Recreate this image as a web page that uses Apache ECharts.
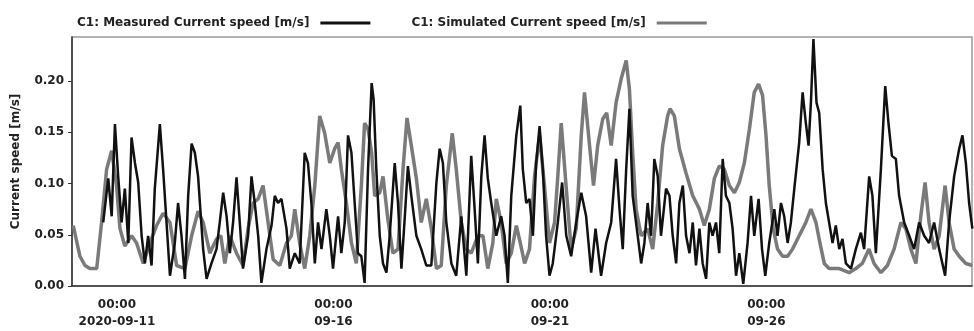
<!DOCTYPE html>
<html>
<head>
<meta charset="utf-8">
<script src="https://cdn.jsdelivr.net/npm/echarts@6/dist/echarts.min.js"></script>
<style>html,body{margin:0;padding:0;background:#fff;}#c{width:974px;height:331px;}</style>
</head>
<body>
<div id="c"></div>
<script>
// time: hours relative to 2020-09-11 00:00
const startDate = Date.UTC(2020, 8, 11, 0, 0, 0);
const xTickHours = [0, 120, 240, 360];
const yTicks = [0, 0.05, 0.10, 0.15, 0.20];

const simHours = [-24.2,-20.5,-17.7,-15.0,-11.2,-8.5,-5.7,-2.9,-0.2,1.7,4.4,8.1,10.9,14.6,18.3,22.0,25.6,29.4,33.1,37.7,41.4,45.0,47.8,51.5,55.2,57.6,59.8,62.6,66.3,69.9,72.7,75.5,78.3,81.0,83.8,86.6,90.3,94.0,96.7,98.6,101.3,104.1,106.9,109.7,112.4,115.2,118.0,120.7,122.6,124.4,127.2,130.0,132.7,135.5,137.3,139.2,141.2,142.9,145.7,147.5,150.2,153.0,155.8,158.6,160.8,163.2,166.0,168.7,171.5,174.3,177.1,179.8,182.6,185.9,188.1,190.9,193.7,196.4,200.1,202.9,205.6,208.4,210.3,213.0,215.8,218.6,221.4,223.6,226.0,228.7,231.5,234.3,237.0,239.8,242.6,244.4,246.3,249.1,251.8,254.6,257.4,259.2,262.0,264.2,266.5,269.3,271.5,274.0,276.7,279.5,282.3,284.1,285.9,287.8,290.6,294.2,297.0,299.8,302.5,305.3,306.6,309.0,311.8,315.5,319.2,322.9,325.6,328.4,331.2,333.9,336.7,339.5,342.3,345.0,347.8,350.6,353.3,355.7,357.9,359.8,361.6,363.8,366.2,369.0,371.8,374.5,378.2,381.9,384.7,387.5,389.7,392.1,394.8,400.4,405.9,409.6,413.2,416.9,419.7,423.5,427.1,430.8,434.6,437.3,440.1,442.9,445.6,448.0,450.2,453.0,455.8,459.1,461.3,464.1,466.9,470.6,474.2];
const simValues = [0.059,0.029,0.020,0.017,0.017,0.062,0.114,0.132,0.098,0.056,0.039,0.049,0.042,0.022,0.042,0.059,0.071,0.062,0.020,0.017,0.049,0.073,0.062,0.032,0.046,0.049,0.022,0.049,0.032,0.020,0.056,0.081,0.085,0.098,0.062,0.026,0.020,0.042,0.049,0.075,0.042,0.017,0.049,0.098,0.166,0.149,0.120,0.134,0.140,0.114,0.081,0.042,0.022,0.098,0.159,0.153,0.130,0.088,0.091,0.107,0.065,0.032,0.036,0.114,0.164,0.137,0.105,0.062,0.085,0.056,0.017,0.020,0.098,0.149,0.114,0.062,0.036,0.032,0.049,0.049,0.017,0.042,0.085,0.062,0.022,0.032,0.059,0.042,0.022,0.036,0.107,0.147,0.098,0.042,0.062,0.107,0.159,0.095,0.036,0.056,0.147,0.189,0.137,0.098,0.137,0.163,0.169,0.137,0.179,0.202,0.220,0.192,0.130,0.075,0.049,0.056,0.036,0.081,0.137,0.166,0.173,0.166,0.134,0.110,0.088,0.075,0.059,0.075,0.105,0.117,0.114,0.098,0.091,0.101,0.120,0.153,0.189,0.197,0.186,0.147,0.098,0.056,0.036,0.029,0.029,0.036,0.049,0.062,0.075,0.062,0.042,0.022,0.017,0.017,0.013,0.017,0.022,0.036,0.022,0.013,0.020,0.036,0.062,0.056,0.036,0.022,0.068,0.101,0.062,0.036,0.049,0.098,0.062,0.036,0.029,0.022,0.020];

const measHours = [-7.6,-4.8,-2.9,-1.1,0.7,2.6,4.4,6.3,8.1,10.0,11.8,13.7,15.5,17.3,19.2,21.0,23.8,25.6,27.5,29.4,32.1,33.9,35.8,37.7,39.5,41.4,43.2,45.0,46.0,47.8,49.7,52.4,55.2,57.0,58.9,60.8,62.6,64.4,66.3,68.1,69.9,72.7,74.6,76.4,78.3,80.1,82.9,85.7,87.5,89.3,91.2,94.0,95.8,98.6,101.3,104.1,105.9,107.8,109.7,111.5,113.4,116.1,118.0,119.8,122.6,124.4,126.3,128.1,130.0,131.8,133.6,135.5,137.3,139.2,141.2,142.3,143.8,145.7,147.5,149.4,151.2,154.0,155.8,157.7,159.5,161.3,163.2,166.0,168.7,171.5,174.3,177.1,178.9,180.7,182.6,185.4,188.1,190.9,193.7,196.4,198.3,200.1,202.0,203.8,205.6,207.5,210.3,213.0,214.9,216.7,218.6,221.4,223.6,225.0,226.9,228.7,230.6,232.4,234.3,236.1,237.9,239.8,241.6,244.4,246.8,249.1,251.8,254.6,257.4,260.1,262.9,265.3,268.4,271.2,274.0,276.7,278.6,280.4,282.3,284.1,285.9,288.7,290.6,292.4,294.2,296.1,297.9,299.8,301.6,304.4,306.3,308.1,310.0,311.8,313.7,315.5,317.4,319.2,321.0,322.9,324.7,326.6,328.4,330.2,332.1,333.9,335.8,337.6,339.5,341.3,343.2,345.0,347.2,349.6,351.5,353.3,355.7,357.6,359.4,361.6,364.4,366.2,368.1,369.9,371.8,373.6,375.5,378.2,380.1,381.9,383.4,384.7,386.1,387.8,389.3,391.2,393.0,394.8,396.7,398.5,400.4,402.2,404.1,406.9,409.6,412.4,414.2,417.0,418.8,420.7,423.5,425.9,427.7,429.6,431.8,433.6,436.4,439.2,441.9,444.7,447.5,450.2,453.0,455.8,459.1,461.3,464.1,466.9,468.7,470.6,472.4,474.2];
const measValues = [0.062,0.105,0.068,0.158,0.107,0.062,0.095,0.042,0.145,0.120,0.101,0.049,0.022,0.049,0.020,0.095,0.158,0.114,0.062,0.010,0.042,0.081,0.049,0.007,0.088,0.139,0.130,0.107,0.081,0.036,0.007,0.022,0.036,0.062,0.091,0.068,0.032,0.062,0.106,0.062,0.017,0.049,0.107,0.081,0.049,0.003,0.036,0.059,0.088,0.081,0.085,0.056,0.017,0.032,0.022,0.130,0.120,0.081,0.022,0.062,0.036,0.075,0.049,0.017,0.068,0.032,0.062,0.147,0.130,0.081,0.032,0.029,0.003,0.114,0.198,0.182,0.114,0.049,0.022,0.013,0.049,0.120,0.081,0.017,0.065,0.117,0.088,0.049,0.036,0.020,0.020,0.101,0.134,0.120,0.062,0.022,0.010,0.068,0.010,0.127,0.075,0.022,0.107,0.147,0.105,0.081,0.049,0.068,0.049,0.003,0.088,0.147,0.176,0.114,0.081,0.085,0.049,0.120,0.156,0.114,0.049,0.010,0.022,0.062,0.101,0.049,0.029,0.062,0.091,0.068,0.013,0.056,0.010,0.042,0.062,0.124,0.075,0.036,0.114,0.173,0.088,0.049,0.022,0.042,0.081,0.049,0.124,0.107,0.049,0.095,0.088,0.049,0.022,0.081,0.098,0.049,0.032,0.062,0.020,0.056,0.022,0.007,0.062,0.049,0.062,0.032,0.124,0.088,0.081,0.056,0.010,0.032,0.002,0.042,0.088,0.049,0.085,0.036,0.010,0.042,0.075,0.049,0.081,0.068,0.042,0.062,0.095,0.140,0.189,0.159,0.137,0.179,0.241,0.179,0.169,0.114,0.081,0.062,0.042,0.059,0.036,0.046,0.022,0.017,0.036,0.052,0.036,0.107,0.088,0.032,0.114,0.195,0.159,0.127,0.124,0.088,0.062,0.049,0.036,0.062,0.049,0.042,0.062,0.036,0.010,0.062,0.107,0.134,0.147,0.120,0.081,0.056];

const seriesNames = ['C1: Measured Current speed [m/s]', 'C1: Simulated Current speed [m/s]'];
const yAxisTitle = 'Current speed [m/s]';

const zip = (a, b) => a.map((h, i) => [h, b[i]]);
const pad = n => String(n).padStart(2, '0');
function fmtX(h) {
  const d = new Date(startDate + h * 3600000);
  const hm = pad(d.getUTCHours()) + ':' + pad(d.getUTCMinutes());
  const md = pad(d.getUTCMonth() + 1) + '-' + pad(d.getUTCDate());
  return hm + '\n' + (h === 0 ? d.getUTCFullYear() + '-' + md : md);
}

const FONT = 'DejaVu Sans';
const chart = echarts.init(document.getElementById('c'), null, {renderer: 'canvas'});
chart.setOption({
  animation: false,
  backgroundColor: '#fff',
  textStyle: {fontFamily: FONT},
  grid: {left: 72, right: 2, top: 37, bottom: 45, show: true, borderColor: '#9a9a9a', borderWidth: 1.5},
  legend: {
    left: 72, top: 12, align: 'right', itemGap: 41, icon: 'rect', itemWidth: 50, itemHeight: 3,
    textStyle: {fontFamily: FONT, fontWeight: 'bold', fontSize: 12, color: '#222', padding: [0, 6, 0, 0]},
    data: seriesNames
  },
  xAxis: {
    type: 'value', min: -24.9, max: 474,
    axisLine: {show: true, onZero: false, lineStyle: {color: '#333', width: 1.5}},
    axisTick: {show: false},
    splitLine: {show: false},
    axisLabel: {
      customValues: xTickHours, formatter: fmtX, margin: 10, lineHeight: 17,
      fontFamily: FONT, fontWeight: 'bold', fontSize: 12, color: '#222'
    }
  },
  yAxis: {
    type: 'value', min: 0, max: 0.243,
    name: yAxisTitle, nameLocation: 'middle', nameRotate: 90, nameGap: 50,
    nameTextStyle: {fontFamily: FONT, fontWeight: 'bold', fontSize: 12, color: '#222'},
    axisLine: {show: true, onZero: false, lineStyle: {color: '#333', width: 1.5}},
    axisTick: {show: true, customValues: yTicks, length: 4, lineStyle: {color: '#333'}},
    splitLine: {show: false},
    axisLabel: {
      customValues: yTicks, formatter: v => v.toFixed(2), margin: 8,
      fontFamily: FONT, fontWeight: 'bold', fontSize: 12, color: '#222'
    }
  },
  series: [
    {
      name: seriesNames[1], type: 'line', data: zip(simHours, simValues), showSymbol: false, symbol: 'none',
      color: '#7a7a7a', lineStyle: {color: '#7a7a7a', width: 3.5}, z: 2
    },
    {
      name: seriesNames[0], type: 'line', data: zip(measHours, measValues), showSymbol: false, symbol: 'none',
      color: '#111', lineStyle: {color: '#111', width: 2.5}, z: 3
    }
  ]
});
</script>
</body>
</html>
